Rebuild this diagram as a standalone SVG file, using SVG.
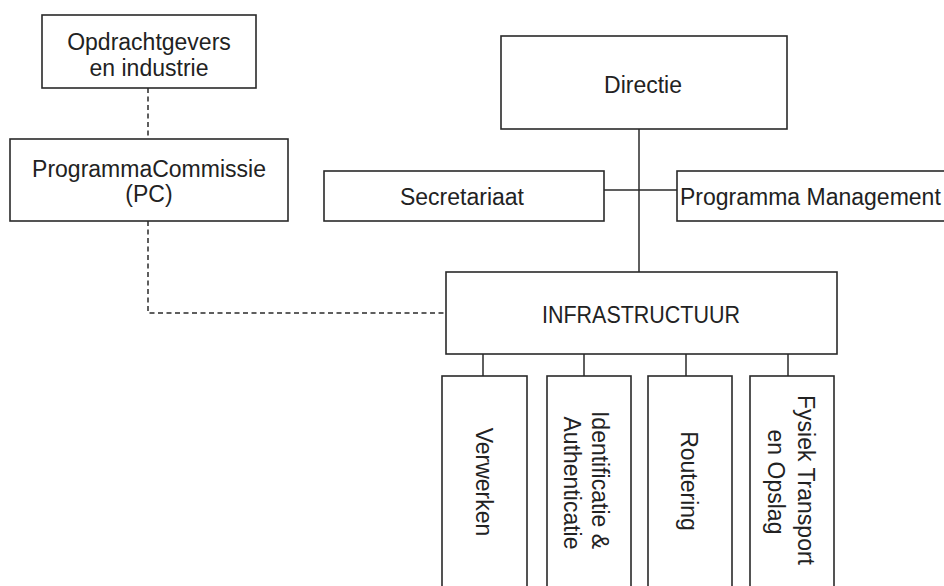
<svg xmlns="http://www.w3.org/2000/svg" width="944" height="586" viewBox="0 0 944 586">
  <style>
    .box { fill: #ffffff; stroke: #2a2a2a; stroke-width: 1.6; }
    .link { fill: none; stroke: #2a2a2a; stroke-width: 1.5; }
    .dash { fill: none; stroke: #2a2a2a; stroke-width: 1.5; stroke-dasharray: 5 3.5; }
    .lbl { font-family: "Liberation Sans", Arial, sans-serif; font-size: 23px; fill: #222222; }
    .mid { text-anchor: middle; }
  </style>
  <rect width="944" height="586" fill="#ffffff"/>

  <!-- connectors -->
  <g id="connectors">
    <path class="dash" d="M148 88 V139"/>
    <path class="dash" d="M148 221 V313 H446"/>
    <path class="link" d="M639 129 V272"/>
    <path class="link" d="M604 190 H677"/>
    <path class="link" d="M483 354 V376"/>
    <path class="link" d="M584 354 V376"/>
    <path class="link" d="M686 354 V376"/>
    <path class="link" d="M788 354 V376"/>
  </g>

  <g id="opdrachtgevers">
    <rect class="box" x="42" y="15" width="214" height="73"/>
    <text class="lbl mid" x="149" y="50">Opdrachtgevers</text>
    <text class="lbl mid" x="149" y="76">en industrie</text>
  </g>

  <g id="programmacommissie">
    <rect class="box" x="10" y="139" width="278" height="82"/>
    <text class="lbl mid" x="149" y="177">ProgrammaCommissie</text>
    <text class="lbl mid" x="149" y="202">(PC)</text>
  </g>

  <g id="directie">
    <rect class="box" x="501" y="36" width="286" height="93"/>
    <text class="lbl mid" x="643" y="93">Directie</text>
  </g>

  <g id="secretariaat">
    <rect class="box" x="324" y="171" width="280" height="50"/>
    <text class="lbl mid" x="462" y="205">Secretariaat</text>
  </g>

  <g id="programma-management">
    <rect class="box" x="677" y="171" width="290" height="50"/>
    <text class="lbl" x="680" y="205">Programma Management</text>
  </g>

  <g id="infrastructuur">
    <rect class="box" x="446" y="272" width="391" height="82"/>
    <text class="lbl mid" x="641" y="323" textLength="198" lengthAdjust="spacingAndGlyphs">INFRASTRUCTUUR</text>
  </g>

  <g id="verwerken">
    <rect class="box" x="442" y="376" width="85" height="230"/>
    <text class="lbl mid" transform="translate(476 482) rotate(90)" x="0" y="0">Verwerken</text>
  </g>

  <g id="identificatie">
    <rect class="box" x="547" y="376" width="84" height="230"/>
    <text class="lbl mid" transform="translate(592 480) rotate(90)" x="0" y="0">Identificatie &amp;</text>
    <text class="lbl mid" transform="translate(564 483) rotate(90)" x="0" y="0">Authenticatie</text>
  </g>

  <g id="routering">
    <rect class="box" x="648" y="376" width="84" height="230"/>
    <text class="lbl mid" transform="translate(681 481) rotate(90)" x="0" y="0">Routering</text>
  </g>

  <g id="fysiek-transport">
    <rect class="box" x="750" y="376" width="84" height="230"/>
    <text class="lbl mid" transform="translate(798 480) rotate(90)" x="0" y="0">Fysiek Transport</text>
    <text class="lbl mid" transform="translate(768 482) rotate(90)" x="0" y="0">en Opslag</text>
  </g>
</svg>
